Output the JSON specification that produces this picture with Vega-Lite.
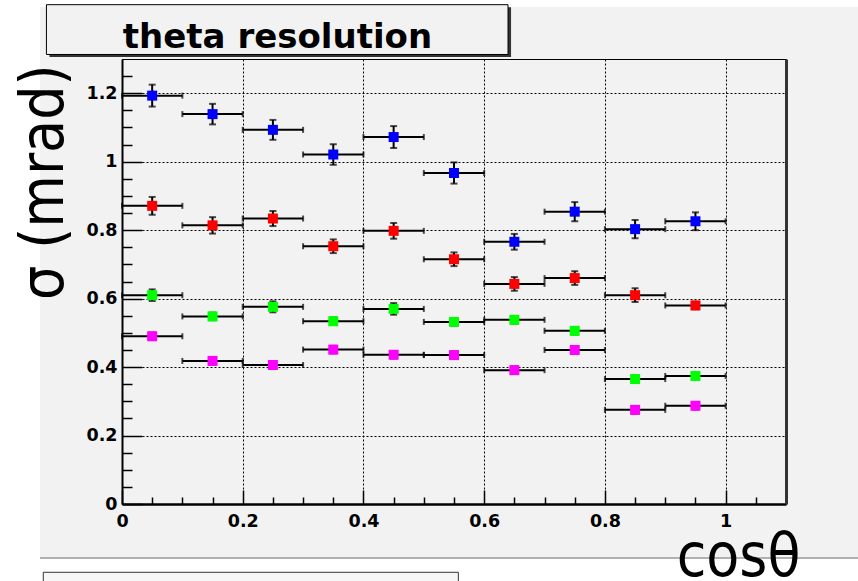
{
  "$schema": "https://vega.github.io/schema/vega-lite/v6.json",
  "width": 664,
  "height": 445,
  "autosize": {"type": "none"},
  "padding": {"left": 122, "top": 59, "right": 72, "bottom": 77},
  "background": "#f2f2f2",
  "config": {
    "view": {"stroke": "#000", "strokeWidth": 1},
    "axis": {
      "domainColor": "#000", "tickColor": "#000", "labelColor": "#000", "titleColor": "#000",
      "labelFont": "DejaVu Sans", "labelFontWeight": "bold", "labelFontSize": 17.5,
      "labelFlush": false, "labelOverlap": false,
      "titleFont": "DejaVu Sans Condensed, DejaVu Sans", "titleFontWeight": "normal", "titleFontSize": 60
    }
  },
  "datasets": {
    "pts": [
      {"cos": 0.05, "sig": 1.193, "err": 0.032, "xe": 0.05, "s": "b"},
      {"cos": 0.15, "sig": 1.139, "err": 0.030, "xe": 0.05, "s": "b"},
      {"cos": 0.25, "sig": 1.093, "err": 0.029, "xe": 0.05, "s": "b"},
      {"cos": 0.35, "sig": 1.021, "err": 0.030, "xe": 0.05, "s": "b"},
      {"cos": 0.45, "sig": 1.072, "err": 0.032, "xe": 0.05, "s": "b"},
      {"cos": 0.55, "sig": 0.967, "err": 0.031, "xe": 0.05, "s": "b"},
      {"cos": 0.65, "sig": 0.766, "err": 0.023, "xe": 0.05, "s": "b"},
      {"cos": 0.75, "sig": 0.854, "err": 0.028, "xe": 0.05, "s": "b"},
      {"cos": 0.85, "sig": 0.803, "err": 0.027, "xe": 0.05, "s": "b"},
      {"cos": 0.95, "sig": 0.826, "err": 0.026, "xe": 0.05, "s": "b"},
      {"cos": 0.05, "sig": 0.871, "err": 0.026, "xe": 0.05, "s": "r"},
      {"cos": 0.15, "sig": 0.814, "err": 0.024, "xe": 0.05, "s": "r"},
      {"cos": 0.25, "sig": 0.834, "err": 0.022, "xe": 0.05, "s": "r"},
      {"cos": 0.35, "sig": 0.753, "err": 0.020, "xe": 0.05, "s": "r"},
      {"cos": 0.45, "sig": 0.798, "err": 0.023, "xe": 0.05, "s": "r"},
      {"cos": 0.55, "sig": 0.715, "err": 0.020, "xe": 0.05, "s": "r"},
      {"cos": 0.65, "sig": 0.643, "err": 0.020, "xe": 0.05, "s": "r"},
      {"cos": 0.75, "sig": 0.660, "err": 0.020, "xe": 0.05, "s": "r"},
      {"cos": 0.85, "sig": 0.610, "err": 0.020, "xe": 0.05, "s": "r"},
      {"cos": 0.95, "sig": 0.580, "err": 0.011, "xe": 0.05, "s": "r"},
      {"cos": 0.05, "sig": 0.610, "err": 0.017, "xe": 0.05, "s": "g"},
      {"cos": 0.15, "sig": 0.548, "err": 0.011, "xe": 0.05, "s": "g"},
      {"cos": 0.25, "sig": 0.576, "err": 0.016, "xe": 0.05, "s": "g"},
      {"cos": 0.35, "sig": 0.534, "err": 0.011, "xe": 0.05, "s": "g"},
      {"cos": 0.45, "sig": 0.570, "err": 0.017, "xe": 0.05, "s": "g"},
      {"cos": 0.55, "sig": 0.532, "err": 0.011, "xe": 0.05, "s": "g"},
      {"cos": 0.65, "sig": 0.538, "err": 0.011, "xe": 0.05, "s": "g"},
      {"cos": 0.75, "sig": 0.506, "err": 0.011, "xe": 0.05, "s": "g"},
      {"cos": 0.85, "sig": 0.365, "err": 0.011, "xe": 0.05, "s": "g"},
      {"cos": 0.95, "sig": 0.374, "err": 0.011, "xe": 0.05, "s": "g"},
      {"cos": 0.05, "sig": 0.490, "err": 0.011, "xe": 0.05, "s": "m"},
      {"cos": 0.15, "sig": 0.418, "err": 0.011, "xe": 0.05, "s": "m"},
      {"cos": 0.25, "sig": 0.406, "err": 0.011, "xe": 0.05, "s": "m"},
      {"cos": 0.35, "sig": 0.451, "err": 0.011, "xe": 0.05, "s": "m"},
      {"cos": 0.45, "sig": 0.436, "err": 0.011, "xe": 0.05, "s": "m"},
      {"cos": 0.55, "sig": 0.435, "err": 0.011, "xe": 0.05, "s": "m"},
      {"cos": 0.65, "sig": 0.391, "err": 0.011, "xe": 0.05, "s": "m"},
      {"cos": 0.75, "sig": 0.450, "err": 0.011, "xe": 0.05, "s": "m"},
      {"cos": 0.85, "sig": 0.275, "err": 0.011, "xe": 0.05, "s": "m"},
      {"cos": 0.95, "sig": 0.287, "err": 0.011, "xe": 0.05, "s": "m"}
    ],
    "one": [{"k": 1}],
    "ttl": [{"label": "theta resolution"}]
  },
  "data": {"name": "pts"},
  "resolve": {"axis": {"x": "independent", "y": "independent"}},
  "layer": [
    {
      "data": {"name": "one"},
      "mark": {"type": "rect", "color": "#ffffff"},
      "encoding": {
        "x": {"datum": -0.25, "type": "quantitative", "scale": {"domain": [0, 1.1], "nice": false, "zero": false}, "axis": null},
        "x2": {"datum": -0.1359},
        "y": {"datum": -0.3, "type": "quantitative", "scale": {"domain": [0, 1.3], "nice": false, "zero": false}, "axis": null},
        "y2": {"datum": 1.5}
      }
    },
    {
      "data": {"name": "one"},
      "mark": {"type": "rect", "color": "#ffffff"},
      "encoding": {
        "x": {"datum": -0.25, "type": "quantitative", "scale": {"domain": [0, 1.1], "nice": false, "zero": false}, "axis": null},
        "x2": {"datum": 1.3},
        "y": {"datum": 1.4519, "type": "quantitative", "scale": {"domain": [0, 1.3], "nice": false, "zero": false}, "axis": null},
        "y2": {"datum": 1.5}
      }
    },
    {
      "data": {"name": "one"},
      "mark": {"type": "rect", "color": "#ffffff"},
      "encoding": {
        "x": {"datum": -0.25, "type": "quantitative", "scale": {"domain": [0, 1.1], "nice": false, "zero": false}, "axis": null},
        "x2": {"datum": 1.3},
        "y": {"datum": -0.3, "type": "quantitative", "scale": {"domain": [0, 1.3], "nice": false, "zero": false}, "axis": null},
        "y2": {"datum": -0.1607}
      }
    },
    {
      "data": {"name": "one"},
      "mark": {"type": "rect", "color": "#b0b0b0"},
      "encoding": {
        "x": {"datum": -0.1359, "type": "quantitative", "scale": {"domain": [0, 1.1], "nice": false, "zero": false}, "axis": null},
        "x2": {"datum": 1.3},
        "y": {"datum": -0.1607, "type": "quantitative", "scale": {"domain": [0, 1.3], "nice": false, "zero": false}, "axis": null},
        "y2": {"datum": -0.1548}
      }
    },
    {
      "data": {"name": "one"},
      "mark": {"type": "rect", "fill": "#f7f7f7", "stroke": "#333", "strokeWidth": 1},
      "encoding": {
        "x": {"datum": -0.1304, "type": "quantitative", "scale": {"domain": [0, 1.1], "nice": false, "zero": false}, "axis": null},
        "x2": {"datum": 0.5572},
        "y": {"datum": -0.3, "type": "quantitative", "scale": {"domain": [0, 1.3], "nice": false, "zero": false}, "axis": null},
        "y2": {"datum": -0.1995}
      }
    },
    {
      "data": {"name": "one"},
      "mark": {"type": "rect", "color": "#333333"},
      "encoding": {
        "x": {"datum": -0.1202, "type": "quantitative", "scale": {"domain": [0, 1.1], "nice": false, "zero": false}, "axis": null},
        "x2": {"datum": 0.6445},
        "y": {"datum": 1.3059, "type": "quantitative", "scale": {"domain": [0, 1.3], "nice": false, "zero": false}, "axis": null},
        "y2": {"datum": 1.4514}
      }
    },
    {
      "data": {"name": "one"},
      "mark": {"type": "rect", "fill": "#f2f2f2", "stroke": "#000", "strokeWidth": 1},
      "encoding": {
        "x": {"datum": -0.1252, "type": "quantitative", "scale": {"domain": [0, 1.1], "nice": false, "zero": false}, "axis": null},
        "x2": {"datum": 0.6395},
        "y": {"datum": 1.3132, "type": "quantitative", "scale": {"domain": [0, 1.3], "nice": false, "zero": false}, "axis": null},
        "y2": {"datum": 1.4587}
      }
    },
    {
      "data": {"name": "ttl"},
      "mark": {"type": "text", "font": "DejaVu Sans", "fontWeight": "bold", "fontSize": 34, "align": "center", "baseline": "alphabetic", "color": "#000"},
      "encoding": {
        "x": {"datum": 0.2576, "type": "quantitative", "scale": {"domain": [0, 1.1], "nice": false, "zero": false}, "axis": null},
        "y": {"datum": 1.3313, "type": "quantitative", "scale": {"domain": [0, 1.3], "nice": false, "zero": false}, "axis": null},
        "text": {"field": "label"}
      }
    },
    {
      "mark": {"type": "point", "opacity": 0},
      "encoding": {
        "x": {"field": "cos", "type": "quantitative", "scale": {"domain": [0, 1.1], "nice": false, "zero": false},
          "axis": {"orient": "bottom", "zindex": 0, "values": [0.2, 0.4, 0.6, 0.8, 1.0], "grid": true, "gridDash": [2, 2], "gridColor": "#000", "gridWidth": 1, "gridOpacity": 1, "domain": false, "ticks": false, "labels": false, "title": null}},
        "y": {"field": "sig", "type": "quantitative", "scale": {"domain": [0, 1.3], "nice": false, "zero": false},
          "axis": {"orient": "left", "zindex": 0, "values": [0.2, 0.4, 0.6, 0.8, 1.0, 1.2], "grid": true, "gridDash": [2, 2], "gridColor": "#000", "gridWidth": 1, "gridOpacity": 1, "domain": false, "ticks": false, "labels": false, "title": null}}
      }
    },
    {
      "mark": {"type": "errorbar", "ticks": {"size": 6, "thickness": 2, "color": "#000"}, "rule": {"strokeWidth": 2, "color": "#000"}},
      "encoding": {
        "x": {"field": "cos", "type": "quantitative", "scale": {"domain": [0, 1.1], "nice": false, "zero": false}, "axis": null},
        "xError": {"field": "xe"},
        "y": {"field": "sig", "type": "quantitative", "scale": {"domain": [0, 1.3], "nice": false, "zero": false}, "axis": null}
      }
    },
    {
      "mark": {"type": "errorbar", "ticks": {"size": 7, "thickness": 2, "color": "#000"}, "rule": {"strokeWidth": 2, "color": "#000"}},
      "encoding": {
        "x": {"field": "cos", "type": "quantitative", "scale": {"domain": [0, 1.1], "nice": false, "zero": false}, "axis": null},
        "y": {"field": "sig", "type": "quantitative", "scale": {"domain": [0, 1.3], "nice": false, "zero": false}, "axis": null},
        "yError": {"field": "err"}
      }
    },
    {
      "mark": {"type": "square", "filled": true, "size": 100, "opacity": 1},
      "encoding": {
        "x": {"field": "cos", "type": "quantitative", "scale": {"domain": [0, 1.1], "nice": false, "zero": false}, "axis": null},
        "y": {"field": "sig", "type": "quantitative", "scale": {"domain": [0, 1.3], "nice": false, "zero": false}, "axis": null},
        "color": {"field": "s", "type": "nominal", "scale": {"domain": ["b", "r", "g", "m"], "range": ["#0000ff", "#ff0000", "#00ff00", "#ff00ff"]}, "legend": null}
      }
    },
    {
      "mark": {"type": "point", "opacity": 0},
      "encoding": {
        "x": {"field": "cos", "type": "quantitative", "scale": {"domain": [0, 1.1], "nice": false, "zero": false},
          "axis": {"orient": "bottom", "zindex": 1, "values": [0, 0.2, 0.4, 0.6, 0.8, 1.0], "format": "~g", "grid": false,
            "domain": true, "domainWidth": 2.5, "ticks": true, "tickSize": -14, "tickWidth": 1.5,
            "labelPadding": 22,
            "title": "cosθ", "titleAlign": "right", "titleBaseline": "alphabetic", "titleAnchor": "end", "titleX": 678, "titleY": 71}},
        "y": {"field": "sig", "type": "quantitative", "scale": {"domain": [0, 1.3], "nice": false, "zero": false},
          "axis": {"orient": "left", "zindex": 1, "values": [0, 0.2, 0.4, 0.6, 0.8, 1.0, 1.2], "format": "~g", "grid": false,
            "domain": true, "domainWidth": 2, "ticks": true, "tickSize": -20, "tickWidth": 1.5,
            "labelPadding": 25,
            "title": "σ (mrad)", "titleAngle": 270, "titleAlign": "right", "titleBaseline": "alphabetic", "titleAnchor": "end", "titleX": -60, "titleY": 5}}
      }
    },
    {
      "mark": {"type": "point", "opacity": 0},
      "encoding": {
        "x": {"field": "cos", "type": "quantitative", "scale": {"domain": [0, 1.1], "nice": false, "zero": false},
          "axis": {"orient": "bottom", "zindex": 1, "values": [0.05, 0.1, 0.15, 0.25, 0.3, 0.35, 0.45, 0.5, 0.55, 0.65, 0.7, 0.75, 0.85, 0.9, 0.95, 1.05],
            "grid": false, "domain": false, "ticks": true, "tickSize": -7, "tickWidth": 1.5, "labels": false, "title": null}},
        "y": {"field": "sig", "type": "quantitative", "scale": {"domain": [0, 1.3], "nice": false, "zero": false},
          "axis": {"orient": "left", "zindex": 1, "values": [0.05, 0.1, 0.15, 0.25, 0.3, 0.35, 0.45, 0.5, 0.55, 0.65, 0.7, 0.75, 0.85, 0.9, 0.95, 1.05, 1.1, 1.15, 1.25],
            "grid": false, "domain": false, "ticks": true, "tickSize": -10, "tickWidth": 1.5, "labels": false, "title": null}}
      }
    },
    {
      "mark": {"type": "point", "opacity": 0},
      "encoding": {
        "x": {"field": "cos", "type": "quantitative", "scale": {"domain": [0, 1.1], "nice": false, "zero": false}, "axis": null},
        "y": {"field": "sig", "type": "quantitative", "scale": {"domain": [0, 1.3], "nice": false, "zero": false},
          "axis": {"orient": "right", "zindex": 1, "domain": true, "domainColor": "#333", "domainWidth": 3, "ticks": false, "labels": false, "grid": false, "title": null}}
      }
    }
  ]
}
